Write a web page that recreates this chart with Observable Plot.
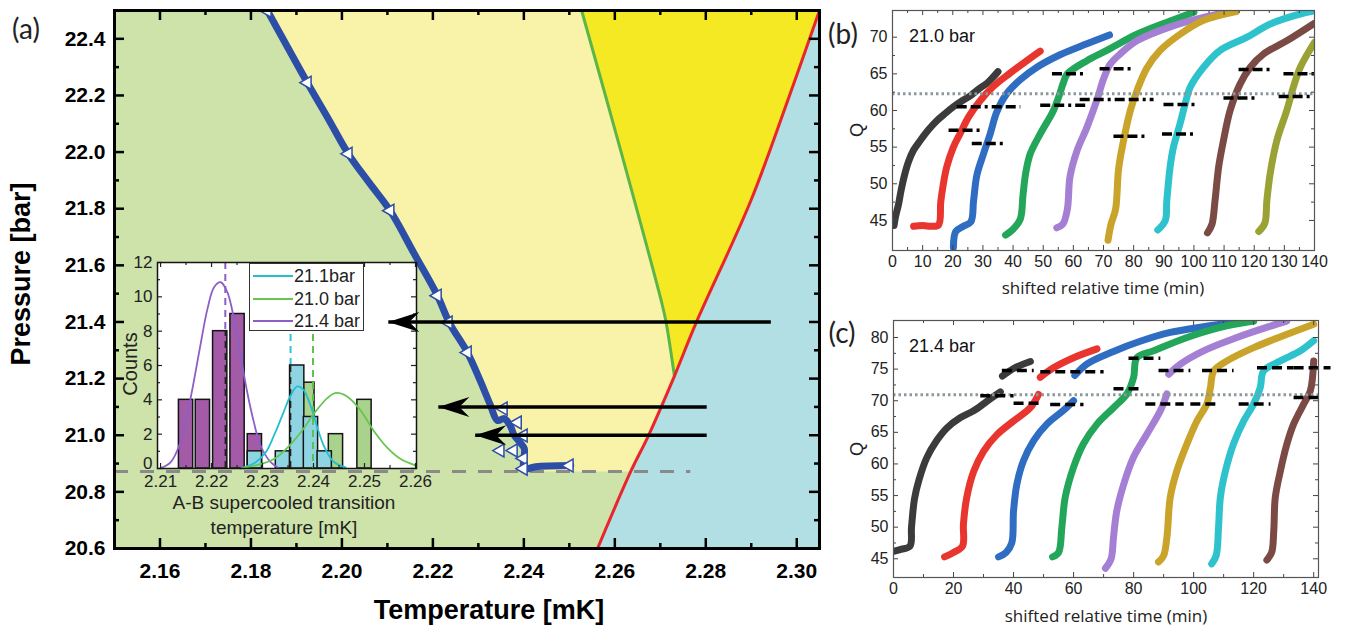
<!DOCTYPE html>
<html><head><meta charset="utf-8">
<script src="https://cdn.jsdelivr.net/npm/d3@7"></script>
<script src="https://cdn.jsdelivr.net/npm/@observablehq/plot@0.6"></script>
<style>
html,body{margin:0;padding:0;background:#fff;}
body{width:1356px;height:625px;position:relative;overflow:hidden;font-family:"Liberation Sans",Arial,sans-serif;}
.abs{position:absolute;}
svg{overflow:visible;}
</style></head><body>
<div id="pa" class="abs" style="left:0;top:0"></div>
<div id="pinset" class="abs" style="left:100px;top:240px"></div>
<div id="legend" class="abs" style="left:249px;top:263px;width:113px;height:66px;border:1.5px solid #333;background:#fff;"></div>
<div id="paover" class="abs" style="left:0;top:0"></div>
<div id="pb" class="abs" style="left:820px;top:0"></div>
<div id="pc" class="abs" style="left:820px;top:310px"></div>
<script>
// ================= Panel (a): phase diagram =================
const aTempDomain = [2.15, 2.305];
const aPresDomain = [20.6, 22.5];
const aTempTicks = [2.16, 2.18, 2.20, 2.22, 2.24, 2.26, 2.28, 2.30];
const aTempMinor = [2.17, 2.19, 2.21, 2.23, 2.25, 2.27, 2.29];
const aPresTicks = [20.6, 20.8, 21.0, 21.2, 21.4, 21.6, 21.8, 22.0, 22.2, 22.4];
const aPresMinor = [20.7, 20.9, 21.1, 21.3, 21.5, 21.7, 21.9, 22.1, 22.3];

// blue trajectory (temperature, pressure)
const blueT = [2.1836, 2.1880, 2.1924, 2.1970, 2.2014, 2.2060, 2.2106, 2.2159, 2.2210, 2.2236, 2.2276, 2.2304, 2.2326, 2.2342, 2.2357, 2.2370, 2.2379, 2.2392, 2.2401, 2.2401, 2.2426, 2.2503];
const blueP = [22.50, 22.372, 22.245, 22.118, 21.994, 21.892, 21.793, 21.641, 21.493, 21.398, 21.292, 21.193, 21.108, 21.052, 21.059, 21.034, 20.999, 20.974, 20.953, 20.882, 20.889, 20.893];
const blueEndIndex = 19; // last point of the descending branch
// triangle markers on trajectory
const markT = [2.1836, 2.1924, 2.2014, 2.2106, 2.2210, 2.2234, 2.2276, 2.2355, 2.2386, 2.2399, 2.2348, 2.2377, 2.2399, 2.2399, 2.2500];
const markP = [22.499, 22.245, 21.994, 21.793, 21.493, 21.398, 21.292, 21.094, 21.045, 20.999, 20.946, 20.946, 20.918, 20.882, 20.893];
// green line (upper part of yellow wedge)
const greenT = [2.2527, 2.2613, 2.2702, 2.2712, 2.2731];
const greenP = [22.5, 22.005, 21.475, 21.405, 21.209];
// red line
const redT = [2.2562, 2.2635, 2.2674, 2.2731, 2.2778, 2.2899, 2.2980, 2.3050];
const redP = [20.6, 20.872, 20.999, 21.209, 21.394, 21.828, 22.181, 22.5];
// grey dashed line
const dashP = 20.872;
const dashT = [2.15, 2.2767];
// arrows
const arrowP = [21.4, 21.1, 21.0];
const arrowFromT = [2.2943, 2.2802, 2.2802];
const arrowToT = [2.2102, 2.2212, 2.2293];

// ================= Inset histogram =================
const insetDomainT = [2.2094, 2.2602];
const insetTicksT = [2.21, 2.22, 2.23, 2.24, 2.25, 2.26];
const insetTicksN = [0, 2, 4, 6, 8, 10, 12];
const purpleBarT = [2.2150, 2.2183, 2.2217, 2.2251, 2.2285];
const purpleBarN = [4, 4, 8, 9, 2];
const greenBarT = [2.2388, 2.2444, 2.2500];
const greenBarN = [5, 2, 4];
const cyanBarT = [2.2285, 2.2340, 2.2368, 2.2395, 2.2422];
const cyanBarN = [1, 1, 6, 3, 1];
const purpleFitT = [2.2100, 2.2120, 2.2139, 2.2152, 2.2165, 2.2178, 2.2192, 2.2205, 2.2218, 2.2231, 2.2244, 2.2257, 2.2270, 2.2283, 2.2296, 2.2316, 2.2332];
const purpleFitN = [0.02, 0.37, 1.53, 3.09, 5.03, 7.16, 9.3, 10.56, 10.85, 10.27, 8.72, 6.58, 4.44, 2.70, 1.34, 0.37, 0.02];
const cyanFitT = [2.2257, 2.2286, 2.2306, 2.2325, 2.2341, 2.2355, 2.2368, 2.2380, 2.2394, 2.2408, 2.2420, 2.2439, 2.2463];
const cyanFitN = [0.0, 0.35, 0.93, 2.1, 3.26, 4.25, 4.78, 4.6, 3.67, 2.33, 1.34, 0.41, 0.06];
const greenFitT = [2.2263, 2.2296, 2.2325, 2.2355, 2.2380, 2.2401, 2.2427, 2.2444, 2.2466, 2.2492, 2.2518, 2.2545, 2.2571, 2.2600];
const greenFitN = [0.05, 0.25, 0.6, 1.4, 2.3, 3.2, 4.1, 4.4, 4.2, 3.4, 2.2, 1.2, 0.55, 0.18];
const meanPurpleT = 2.2227, meanCyanT = 2.2355, meanGreenT = 2.2399;
const legendNames = ["21.1bar", "21.0 bar", "21.4 bar"];

// ================= Panel (b): 21.0 bar =================
const bDomainT = [0, 140];
const bDomainQ = [40.9, 73.64];
const bTicksT = [0, 10, 20, 30, 40, 50, 60, 70, 80, 90, 100, 110, 120, 130, 140];
const bTicksQ = [45, 50, 55, 60, 65, 70];
const bBlack = [[0.5,44.3],[1,45.5],[2,47.2],[2.8,49],[4,51.2],[5.3,53],[7,54.6],[9.2,55.9],[12,57.4],[14.7,58.6],[17.5,59.6],[20.2,60.5],[23,61.3],[25.8,62],[28.5,62.9],[31.3,63.7],[33.5,64.6],[35,65.3]];
const bRed = [[7,44.2],[10,44.3],[13,44.2],[15.3,44.4],[16,47.5],[16.8,49.8],[18,52.3],[20.2,55],[22.5,56.9],[25.2,59.1],[29,61.3],[33.5,63.3],[39,65.1],[44.6,66.8],[49,68.1]];
const bBlue = [[20.2,41.3],[21,43.5],[23.5,44.2],[26,44.8],[26.9,47.7],[28,51.2],[30.2,54.1],[32.4,56.8],[34.6,59.8],[37.9,62.3],[42.4,64.2],[47.9,65.9],[55.6,67.6],[64.5,69.1],[72,70.3]];
const bGreen = [[37.5,43],[40,43.8],[42.4,45.2],[43.3,48.5],[44.2,51.5],[45.7,54.1],[49,56.8],[53.4,60],[55.5,62.3],[56.7,63.8],[58,65],[64.5,66.8],[71.1,68.2],[81.1,70.4],[92.1,72.2],[100,73.4]];
const bPurple = [[54.5,44],[56.5,44.5],[58,46.5],[58.9,51],[61.2,54.5],[64.5,57.7],[67.8,61.4],[70,64.3],[72.2,66.3],[75.5,67.7],[81.1,69.5],[92.1,71.4],[103.2,72.7],[114,73.6]];
const bGold = [[71.5,42.3],[72.5,44.5],[74,46.5],[75,52],[76.6,55.8],[78.9,60],[81.1,62.7],[84.4,65.8],[88.8,68.2],[95.4,70.4],[103.2,72.3],[114,73.5]];
const bCyan = [[88,43.7],[90.5,45],[91,47.7],[92.1,52.3],[93.2,55],[95.4,58.2],[97.1,60.9],[98.8,63.2],[103.2,65.9],[108.7,68.2],[117.6,70],[125.3,71.8],[136.4,73.3],[140,73.6]];
const bBrown = [[104.5,43.3],[106,44.5],[107,47.7],[108.2,52.3],[109.8,55.9],[112,60],[115.3,63.6],[118.7,65.9],[123.1,67.7],[130.8,69.5],[140,71.9]];
const bOlive = [[121.5,43.5],[123.5,44.6],[124.2,47.7],[125.3,51.4],[127.5,55.9],[130.8,60],[133,63.2],[135.3,65.9],[140,69.3]];
const bDashT1 = [18.6, 21.3, 26.3, 49, 52.9, 62.1, 68.7, 73.3, 89.9, 89.4, 109.8, 114.8, 128.1, 129.7];
const bDashT2 = [29.6, 42.4, 37.9, 64.5, 64.5, 86.6, 79.9, 84.4, 101.5, 100.9, 120.9, 126.4, 139.7, 141];
const bDashQ = [57.3, 60.5, 55.5, 60.7, 65, 61.5, 65.7, 56.5, 60.8, 56.8, 61.7, 65.6, 61.9, 65];
const bRefQ = 62.27;

// ================= Panel (c): 21.4 bar =================
const cDomainT = [0, 141.6];
const cDomainQ = [42.04, 82.69];
const cTicksT = [0, 20, 40, 60, 80, 100, 120, 140];
const cTicksQ = [45, 50, 55, 60, 65, 70, 75, 80];
const cBlack = [[0.3,46.2],[2.5,46.5],[5.5,47],[6,50],[7,54.5],[8.5,57.5],[11.1,61],[14.4,63.7],[17.8,65.7],[22.2,67.3],[26.7,68.4],[31.1,69.9],[35.6,71.4],[36,null],[36.3,73.9],[40,75.1],[45.6,76.2]];
const cRed = [[17,45.3],[20,46],[23,47],[23.3,50.5],[24.4,54.7],[26.7,58.8],[30,62],[34.4,64.6],[40,66.8],[45.6,68.9],[48.3,71],[48.6,null],[48.9,73.7],[53.3,75.2],[60,76.8],[67.8,78.2]];
const cBlue = [[35,45.3],[37.5,46],[39.4,47.5],[40,52.6],[41.1,56.8],[43.3,60.5],[46.7,63.7],[51.1,66.3],[56.7,68.5],[60,70],[60.2,null],[60.4,74],[64.4,75.8],[73.3,77.8],[82.2,79.4],[92.2,80.8],[103.3,81.7],[115,82.5]];
const cGreen = [[53,45.3],[55,46],[56.1,50],[57.2,54.7],[60,59.5],[63.3,63.2],[67.8,66.3],[73.3,68.9],[77.8,71.1],[80,73.7],[81.1,76.8],[86.7,77.9],[97.8,80],[108.9,81.6],[120,82.6]];
const cPurple = [[70.6,43.5],[72.5,45],[73.3,48.4],[74.4,52.6],[76.7,56.8],[80,61.1],[84.4,64.7],[88.9,68.4],[91.1,71.1],[91.4,null],[91.7,74.2],[95.6,75.8],[103.3,77.9],[114.4,80],[125.6,81.8],[131,82.6]];
const cGold = [[88.3,44.5],[90,45.5],[91.1,48.4],[92.2,54.7],[94.4,58.9],[97.8,63.2],[101.1,66.8],[104.4,69.5],[105.6,72.1],[106.7,74.7],[111.1,76.3],[120,78.4],[131.1,80.5],[140,82.1]];
const cCyan = [[106,44.2],[107.5,45.5],[108.3,50],[108.9,54.7],[110.6,58.9],[113.3,63.2],[116.7,66.8],[120,69.5],[122.2,72.1],[123.3,74.7],[128.9,76.3],[135.6,77.9],[140,79.5]];
const cBrown = [[124.4,44.8],[126,46],[126.7,49.5],[127.2,54.7],[128.9,58.9],[131.1,63.2],[133.3,66.3],[136.7,69.5],[138.9,71.6],[140,76.3]];
const cDashT1 = [28.9, 36.1, 40, 48.9, 52.2, 73.3, 78.3, 83.9, 88.3, 98.9, 102.8, 115, 121.1, 133.3, 133.3];
const cDashT2 = [40, 46.7, 50, 70, 63.3, 83.3, 88.9, 96.7, 98.9, 108.9, 113.3, 125.6, 133.3, 145.6, 143.3];
const cDashQ = [70.8, 74.8, 69.6, 74.6, 69.4, 71.9, 76.7, 69.5, 74.8, 69.5, 74.8, 69.5, 75.2, 75.2, 70.5];
const cRefQ = 70.95;

const runColors = ["#3b3b3b", "#e8352e", "#2f6dc2", "#24a65a", "#a47fd3", "#c9a32a", "#2ec3cc", "#7b4a45", "#9aa236"];

// ---------------- build tables ----------------
const zip = (a, b, ka, kb) => a.map((v, i) => ({[ka]: v, [kb]: b[i]}));
const blueCurve = zip(blueT, blueP, "T", "P");
const blueMarks = zip(markT, markP, "T", "P");
const greenLine = zip(greenT, greenP, "T", "P");
const redLine = zip(redT, redP, "T", "P");
const topP = aPresDomain[1];
// region polygons built from the boundary lines
const yellowPoly = [
  ...blueCurve.slice(0, blueEndIndex + 1),
  {T: blueT[blueEndIndex], P: dashP},
  ...redLine.filter(d => d.P >= dashP)
];
const brightPoly = [
  ...greenLine,
  ...redLine.filter(d => d.P > greenP[greenP.length - 1])
];
const bluePoly = [...redLine, {T: aTempDomain[1], P: topP}, {T: aTempDomain[1], P: aPresDomain[0]}];
const dashLine = [{P: dashP, T1: dashT[0], T2: dashT[1]}];
const arrows = arrowP.map((p, i) => ({P: p, from: arrowFromT[i], to: arrowToT[i]}));

const aW = 830, aH = 625, aM = {top: 10, right: 11, bottom: 77, left: 114};
const aPW = aW - aM.left - aM.right, aPH = aH - aM.top - aM.bottom;
const ink = "#000";

function insetTicks(ticksX, ticksY, pw, ph, len, sw, color) {
  return [
    Plot.ruleX(ticksX, {x: d => d, insetBottom: ph - len, stroke: color, strokeWidth: sw}),
    Plot.ruleX(ticksX, {x: d => d, insetTop: ph - len, stroke: color, strokeWidth: sw}),
    Plot.ruleY(ticksY, {y: d => d, insetRight: pw - len, stroke: color, strokeWidth: sw}),
    Plot.ruleY(ticksY, {y: d => d, insetLeft: pw - len, stroke: color, strokeWidth: sw})
  ];
}

const plotA = Plot.plot({
  width: aW, height: aH,
  marginTop: aM.top, marginRight: aM.right, marginBottom: aM.bottom, marginLeft: aM.left,
  x: {domain: aTempDomain, label: null},
  y: {domain: aPresDomain, label: null},
  style: {background: "transparent", fontFamily: "'Liberation Sans', Arial, sans-serif", fontSize: "21px", fontWeight: "bold", color: "#000", overflow: "visible"},
  marks: [
    Plot.frame({fill: "#cde3aa", stroke: "none"}),
    Plot.line(yellowPoly, {x: "T", y: "P", fill: "#f8f3a9", stroke: "none", clip: true}),
    Plot.line(brightPoly, {x: "T", y: "P", fill: "#f4e923", stroke: "none", clip: true}),
    Plot.line(bluePoly, {x: "T", y: "P", fill: "#b2dfe4", stroke: "none", clip: true}),
    Plot.ruleY(dashLine, {y: "P", x1: "T1", x2: "T2", stroke: "#8a8a8a", strokeWidth: 3, strokeDasharray: "14,12"}),
    Plot.line(greenLine, {x: "T", y: "P", stroke: "#5cb548", strokeWidth: 3, curve: "catmull-rom", clip: true}),
    Plot.line(redLine, {x: "T", y: "P", stroke: "#e8262b", strokeWidth: 3, curve: "catmull-rom", clip: true}),
    Plot.line(blueCurve, {x: "T", y: "P", stroke: "#2d4ea6", strokeWidth: 7, curve: "catmull-rom", clip: true}),
    Plot.dot(blueMarks, {x: "T", y: "P", symbol: "triangle", rotate: -90, r: 4.8, fill: "white", stroke: "#2d4ea6", strokeWidth: 1.5, clip: true}),
    ...insetTicks(aTempTicks, aPresTicks, aPW, aPH, 10, 2.5, ink),
    ...insetTicks(aTempMinor, aPresMinor, aPW, aPH, 5, 2.5, ink),
    Plot.frame({stroke: ink, strokeWidth: 3}),
    Plot.axisX(aTempTicks, {anchor: "bottom", tickSize: 0, tickPadding: 15, tickFormat: d => d.toFixed(2), label: null}),
    Plot.axisY(aPresTicks, {anchor: "left", tickSize: 0, tickPadding: 9, tickFormat: d => d.toFixed(1), label: null})
  ]
});
document.getElementById("pa").appendChild(plotA);

// ---------------- inset ----------------
const bw = 0.0028;
const pBars = zip(purpleBarT, purpleBarN, "T", "N");
const gBars = zip(greenBarT, greenBarN, "T", "N");
const cBars = zip(cyanBarT, cyanBarN, "T", "N");
const pFit = zip(purpleFitT, purpleFitN, "T", "N");
const cFit = zip(cyanFitT, cyanFitN, "T", "N");
const gFit = zip(greenFitT, greenFitN, "T", "N");
const inW = 330, inH = 300, inM = {top: 22, right: 14, bottom: 72, left: 57};
const inPW = inW - inM.left - inM.right, inPH = inH - inM.top - inM.bottom;
const insetMinorT = [2.215, 2.225, 2.235, 2.245, 2.255];
const insetMinorN = [1, 3, 5, 7, 9, 11];
const barOpts = (fill) => ({x1: d => d.T - bw / 2, x2: d => d.T + bw / 2, y1: () => 0, y2: "N", fill, stroke: "#151515", strokeWidth: 1.5});
const plotInset = Plot.plot({
  width: inW, height: inH,
  marginTop: inM.top, marginRight: inM.right, marginBottom: inM.bottom, marginLeft: inM.left,
  x: {domain: insetDomainT, label: null},
  y: {domain: [0, 12], label: null},
  style: {background: "transparent", fontFamily: "'Liberation Sans', Arial, sans-serif", fontSize: "17px", color: "#222", overflow: "visible"},
  marks: [
    Plot.frame({fill: "white", stroke: "none"}),
    Plot.ruleX([meanPurpleT], {x: d => d, stroke: "#8d5ec6", strokeWidth: 2, strokeDasharray: "7,5"}),
    Plot.ruleX([meanCyanT], {x: d => d, stroke: "#2ec3d6", strokeWidth: 2, strokeDasharray: "7,5"}),
    Plot.rect(pBars, barOpts("#a35ba7")),
    Plot.rect(gBars, barOpts("#a9d38c")),
    Plot.rect(cBars, barOpts("#8ed4e3")),
    Plot.ruleX([{T: meanPurpleT, N: 8}, {T: meanCyanT, N: 6}], {x: "T", y1: () => 0, y2: "N", stroke: "#222", strokeWidth: 1.5, strokeDasharray: "7,5"}),
    Plot.ruleX([meanGreenT], {x: d => d, stroke: "#5cc24a", strokeWidth: 2, strokeDasharray: "7,5"}),
    Plot.line(pFit, {x: "T", y: "N", stroke: "#8d5ec6", strokeWidth: 1.8, curve: "catmull-rom"}),
    Plot.line(cFit, {x: "T", y: "N", stroke: "#22bfd2", strokeWidth: 1.8, curve: "catmull-rom"}),
    Plot.line(gFit, {x: "T", y: "N", stroke: "#68c650", strokeWidth: 1.8, curve: "catmull-rom"}),
    ...insetTicks(insetTicksT, insetTicksN, inPW, inPH, 5, 1.2, "#222"),
    ...insetTicks(insetMinorT, insetMinorN, inPW, inPH, 3, 1.2, "#222"),
    Plot.frame({stroke: "#151515", strokeWidth: 1.5}),
    Plot.axisX(insetTicksT, {anchor: "bottom", tickSize: 0, tickPadding: 6, tickFormat: d => d.toFixed(2), label: null}),
    Plot.axisY(insetTicksN.filter(n => n > 0), {anchor: "left", tickSize: 0, tickPadding: 5, label: null}),
    Plot.axisY(insetTicksN.filter(n => n === 0), {anchor: "left", tickSize: 0, tickPadding: 5, dy: -5, label: null})
  ]
});
document.getElementById("pinset").appendChild(plotInset);

// legend
const legColors = ["#22bfd2", "#68c650", "#8d5ec6"];
const leg = document.getElementById("legend");
legendNames.forEach((name, i) => {
  const row = document.createElement("div");
  row.style.cssText = `position:absolute;left:0;top:${1 + i * 22.5}px;height:22px;width:113px;`;
  row.innerHTML = `<div style="position:absolute;left:3px;top:10px;width:40px;border-top:2px solid ${legColors[i]}"></div>` +
    `<div style="position:absolute;left:44px;top:1px;font:18px 'Liberation Sans',Arial,sans-serif;color:#222;white-space:nowrap;line-height:20px">${name}</div>`;
  leg.appendChild(row);
});

// ---------------- arrows overlay ----------------
const arrowHead = {
  draw(ctx) {
    ctx.moveTo(0, 0);
    ctx.lineTo(31, -10);
    ctx.lineTo(21, 0);
    ctx.lineTo(31, 10);
    ctx.closePath();
  }
};
const plotAOver = Plot.plot({
  width: aW, height: aH,
  marginTop: aM.top, marginRight: aM.right, marginBottom: aM.bottom, marginLeft: aM.left,
  x: {domain: aTempDomain, axis: null},
  y: {domain: aPresDomain, axis: null},
  style: {background: "transparent", overflow: "visible"},
  marks: [
    Plot.link(arrows, {x1: "from", x2: d => d.to, y1: "P", y2: "P", stroke: "#000", strokeWidth: 3.5, strokeLinecap: "butt"}),
    Plot.dot(arrows, {x: "to", y: "P", symbol: arrowHead, r: 10, fill: "#000", stroke: "none"})
  ]
});
document.getElementById("paover").appendChild(plotAOver);

// ---------------- panels (b) and (c) ----------------
function qPanel(cfg) {
  const pw = cfg.W - cfg.mL - cfg.mR, ph = cfg.H - cfg.mT - cfg.mB;
  const dashes = cfg.dashT1.map((t, i) => ({t1: t, t2: cfg.dashT2[i], Q: cfg.dashQ[i]}));
  const minorT = cfg.ticksT.slice(0, -1).map((t, i) => (t + cfg.ticksT[i + 1]) / 2);
  const minorQ = cfg.ticksQ.slice(0, -1).map((q, i) => (q + cfg.ticksQ[i + 1]) / 2);
  return Plot.plot({
    width: cfg.W, height: cfg.H,
    marginTop: cfg.mT, marginRight: cfg.mR, marginBottom: cfg.mB, marginLeft: cfg.mL,
    x: {domain: cfg.domT, label: null},
    y: {domain: cfg.domQ, label: null},
    style: {background: "transparent", fontFamily: "'Liberation Sans', Arial, sans-serif", fontSize: "16px", color: "#222", overflow: "visible"},
    marks: [
      Plot.frame({fill: "white", stroke: "none"}),
      ...cfg.series.map((s, i) => Plot.line(s, {x: d => d[0], y: d => d[1], stroke: runColors[i], strokeWidth: 7, curve: "catmull-rom", clip: true})),
      Plot.ruleY([cfg.refQ], {y: d => d, stroke: "#8d979d", strokeWidth: 3, strokeDasharray: "2.5,3"}),
      Plot.link(dashes, {x1: "t1", x2: "t2", y1: "Q", y2: "Q", stroke: "#000", strokeWidth: 3.5, strokeDasharray: cfg.dashPattern, strokeLinecap: "butt"}),
      ...insetTicks(cfg.ticksT, cfg.ticksQ, pw, ph, 5, 1, "#444"),
      ...insetTicks(minorT, minorQ, pw, ph, 3, 1, "#444"),
      Plot.frame({stroke: "#555", strokeWidth: 1.2}),
      Plot.axisX(cfg.ticksT, {anchor: "bottom", tickSize: 0, tickPadding: 5, label: null}),
      Plot.axisY(cfg.ticksQ, {anchor: "left", tickSize: 0, tickPadding: 5, label: null})
    ]
  });
}
document.getElementById("pb").appendChild(qPanel({
  W: 536, H: 310, mL: 72, mR: 42, mT: 10, mB: 60,
  domT: bDomainT, domQ: bDomainQ, ticksT: bTicksT, ticksQ: bTicksQ,
  series: [bBlack, bRed, bBlue, bGreen, bPurple, bGold, bCyan, bBrown, bOlive],
  dashT1: bDashT1, dashT2: bDashT2, dashQ: bDashQ, dashPattern: "10,4,10,4,3,4", refQ: bRefQ
}));
document.getElementById("pc").appendChild(qPanel({
  W: 536, H: 315, mL: 73, mR: 38, mT: 10, mB: 48,
  domT: cDomainT, domQ: cDomainQ, ticksT: cTicksT, ticksQ: cTicksQ,
  series: [cBlack, cRed, cBlue, cGreen, cPurple, cGold, cCyan, cBrown],
  dashT1: cDashT1, dashT2: cDashT2, dashQ: cDashQ, dashPattern: "10,5", refQ: cRefQ
}));

// ---------------- text labels ----------------
function addLabel(txt, cx, cy, css, rot = 0) {
  const d = document.createElement("div");
  d.textContent = txt;
  d.style.cssText = `position:absolute;left:${cx}px;top:${cy}px;white-space:nowrap;line-height:1;transform:translate(-50%,-50%) rotate(${rot}deg);${css}`;
  document.body.appendChild(d);
}
const bold27 = "font:bold 27px 'Liberation Sans',Arial,sans-serif;color:#000;";
const letter = "font:28px Lato,'Open Sans',sans-serif;color:#222;";
addLabel("(a)", 26, 28, letter);
addLabel("(b)", 843, 33, letter);
addLabel("(c)", 842, 332, letter);
addLabel("Pressure [bar]", 21, 274, bold27, -90);
addLabel("Temperature [mK]", 489, 610, bold27);
addLabel("Counts", 130, 364, "font:20px 'Liberation Sans',Arial,sans-serif;color:#222;", -90);
addLabel("A-B supercooled transition", 284, 503, "font:19px 'Liberation Sans',Arial,sans-serif;color:#222;");
addLabel("temperature [mK]", 284, 528, "font:19px 'Liberation Sans',Arial,sans-serif;color:#222;");
const qLab = "font:18px 'Liberation Sans',Arial,sans-serif;color:#222;";
addLabel("Q", 857, 130, qLab, -90);
addLabel("Q", 857, 449, qLab, -90);
const tLab = "font:17px 'Open Sans','Liberation Sans',sans-serif;color:#222;";
addLabel("shifted relative time (min)", 1103, 287, tLab);
addLabel("shifted relative time (min)", 1106, 615, tLab);
addLabel("21.0 bar", 942, 36, "font:18px 'Liberation Sans',Arial,sans-serif;color:#111;");
addLabel("21.4 bar", 942, 346, "font:18px 'Liberation Sans',Arial,sans-serif;color:#111;");
</script>
</body></html>
